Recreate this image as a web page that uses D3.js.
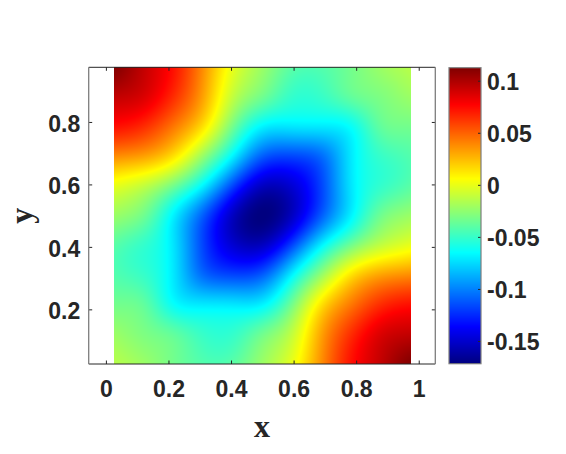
<!DOCTYPE html>
<html><head><meta charset="utf-8">
<script src="https://cdn.jsdelivr.net/npm/d3@7"></script>
<style>html,body{margin:0;padding:0;background:#fff;} svg{display:block}</style>
</head><body>
<svg id="chart" width="566" height="454"></svg>
<script>
// ---- data ----
const xNodes = [0.025, 0.12, 0.215, 0.31, 0.405, 0.5, 0.595, 0.69, 0.785, 0.88, 0.975];
const yNodes = [0.025, 0.12, 0.215, 0.31, 0.405, 0.5, 0.595, 0.69, 0.785, 0.88, 0.975];
// rows: yNodes[0] (bottom) ... yNodes[10] (top); columns follow xNodes
const zRow0  = [-0.014, -0.022, -0.033, -0.042, -0.040, -0.022,  0.000,  0.038,  0.073,  0.094,  0.112];
const zRow1  = [-0.022, -0.030, -0.038, -0.050, -0.051, -0.034, -0.011,  0.032,  0.065,  0.087,  0.094];
const zRow2  = [-0.033, -0.038, -0.063, -0.071, -0.072, -0.068, -0.033,  0.014,  0.044,  0.065,  0.073];
const zRow3  = [-0.042, -0.050, -0.071, -0.106, -0.117, -0.110, -0.068, -0.023,  0.014,  0.032,  0.038];
const zRow4  = [-0.040, -0.051, -0.072, -0.117, -0.148, -0.153, -0.117, -0.068, -0.033, -0.011,  0.000];
const zRow5  = [-0.022, -0.034, -0.068, -0.110, -0.153, -0.172, -0.153, -0.110, -0.068, -0.034, -0.022];
const zRow6  = [ 0.000, -0.011, -0.033, -0.068, -0.117, -0.153, -0.148, -0.117, -0.072, -0.051, -0.040];
const zRow7  = [ 0.038,  0.032,  0.014, -0.023, -0.068, -0.110, -0.117, -0.106, -0.071, -0.050, -0.042];
const zRow8  = [ 0.073,  0.065,  0.044,  0.014, -0.033, -0.068, -0.072, -0.071, -0.063, -0.038, -0.033];
const zRow9  = [ 0.094,  0.087,  0.065,  0.032, -0.011, -0.034, -0.051, -0.050, -0.038, -0.030, -0.022];
const zRow10 = [ 0.112,  0.094,  0.073,  0.038,  0.000, -0.022, -0.040, -0.042, -0.033, -0.022, -0.014];
const zRows = [zRow0, zRow1, zRow2, zRow3, zRow4, zRow5, zRow6, zRow7, zRow8, zRow9, zRow10];

const xTicks = [0, 0.2, 0.4, 0.6, 0.8, 1];
const xTickLabels = ["0", "0.2", "0.4", "0.6", "0.8", "1"];
const yTicks = [0.2, 0.4, 0.6, 0.8];
const yTickLabels = ["0.2", "0.4", "0.6", "0.8"];
const cTicks = [-0.15, -0.1, -0.05, 0, 0.05, 0.1];
const cTickLabels = ["-0.15", "-0.1", "-0.05", "0", "0.05", "0.1"];
const cLimits = [-0.1718, 0.1125];
const xLimits = [-0.055, 1.053];
const yLimits = [0.025, 0.975];
const xLabel = "x", yLabel = "y";

// ---- layout ----
const plot = {left: 88.7, right: 435.3, top: 67.3, bottom: 364};
const cbar = {left: 449, right: 481, top: 67.7, bottom: 363.7};
const tickFont = "bold 23px 'Liberation Sans', Arial, Helvetica, sans-serif";
const textColor = "#262626";

const svg = d3.select("#chart");
const x = d3.scaleLinear().domain(xLimits).range([plot.left, plot.right]);
const y = d3.scaleLinear().domain(yLimits).range([plot.bottom, plot.top]);
const c = d3.scaleLinear().domain(cLimits).range([cbar.bottom, cbar.top]);
const tScale = d3.scaleLinear().domain(cLimits).range([0, 1]).clamp(true);

function jet(v) {
  const t = tScale(v);
  const f = a => Math.max(0, Math.min(1, a));
  return [f(1.5 - Math.abs(4 * t - 3)), f(1.5 - Math.abs(4 * t - 2)), f(1.5 - Math.abs(4 * t - 1))];
}

// ---- smooth rendering of the grid (multiquadric surface through the grid values) ----
const pts = [];
yNodes.forEach((yv, j) => xNodes.forEach((xv, i) => pts.push([xv, yv, zRows[j][i]])));
const N = pts.length;
const eps = xNodes[1] - xNodes[0];
const phi = (dx, dy) => Math.sqrt(dx * dx + dy * dy + eps * eps);
const A = pts.map(p => pts.map(q => phi(p[0] - q[0], p[1] - q[1])));
const b = pts.map(p => p[2]);
for (let k = 0; k < N; k++) {
  let piv = k;
  for (let r = k + 1; r < N; r++) if (Math.abs(A[r][k]) > Math.abs(A[piv][k])) piv = r;
  [A[k], A[piv]] = [A[piv], A[k]]; [b[k], b[piv]] = [b[piv], b[k]];
  for (let r = k + 1; r < N; r++) {
    const m = A[r][k] / A[k][k];
    if (m === 0) continue;
    for (let cc = k; cc < N; cc++) A[r][cc] -= m * A[k][cc];
    b[r] -= m * b[k];
  }
}
const w = new Array(N).fill(0);
for (let k = N - 1; k >= 0; k--) {
  let s = b[k];
  for (let cc = k + 1; cc < N; cc++) s -= A[k][cc] * w[cc];
  w[k] = s / A[k][k];
}
function sample(u, v) {
  let s = 0;
  for (let k = 0; k < N; k++) s += w[k] * phi(u - pts[k][0], v - pts[k][1]);
  return s;
}

const ix0 = Math.round(x(xNodes[0])), ix1 = Math.round(x(xNodes[xNodes.length - 1]));
const iy0 = Math.round(y(yNodes[yNodes.length - 1])), iy1 = Math.round(y(yNodes[0]));
const cw = ix1 - ix0, ch = iy1 - iy0;
const canvas = document.createElement("canvas");
canvas.width = cw; canvas.height = ch;
const ctx = canvas.getContext("2d");
const img = ctx.createImageData(cw, ch);
for (let r = 0; r < ch; r++) {
  const v = Math.max(yNodes[0], Math.min(yNodes[yNodes.length - 1], y.invert(iy0 + r + 0.5)));
  for (let k = 0; k < cw; k++) {
    const u = Math.max(xNodes[0], Math.min(xNodes[xNodes.length - 1], x.invert(ix0 + k + 0.5)));
    const col = jet(sample(u, v));
    const o = (r * cw + k) * 4;
    img.data[o] = Math.round(col[0] * 255);
    img.data[o + 1] = Math.round(col[1] * 255);
    img.data[o + 2] = Math.round(col[2] * 255);
    img.data[o + 3] = 255;
  }
}
ctx.putImageData(img, 0, 0);
svg.append("image").attr("x", ix0).attr("y", iy0).attr("width", cw).attr("height", ch)
  .attr("preserveAspectRatio", "none").attr("href", canvas.toDataURL());

// colorbar image
const cbx0 = Math.round(cbar.left), cbx1 = Math.round(cbar.right);
const cby0 = Math.round(cbar.top), cby1 = Math.round(cbar.bottom);
const cb = document.createElement("canvas");
cb.width = cbx1 - cbx0; cb.height = cby1 - cby0;
const cbctx = cb.getContext("2d");
for (let r = 0; r < cb.height; r++) {
  const col = jet(c.invert(cby0 + r + 0.5));
  cbctx.fillStyle = `rgb(${Math.round(col[0]*255)},${Math.round(col[1]*255)},${Math.round(col[2]*255)})`;
  cbctx.fillRect(0, r, cb.width, 1);
}
svg.append("image").attr("x", cbx0).attr("y", cby0).attr("width", cb.width).attr("height", cb.height)
  .attr("preserveAspectRatio", "none").attr("href", cb.toDataURL());

// ---- axes ----
function styleAxis(g) {
  g.select(".domain").remove();
  g.selectAll(".tick line").attr("stroke", textColor).attr("stroke-width", 1);
  g.selectAll("text").attr("fill", textColor).style("font", tickFont);
}
const tick = 3.5;
const gx = svg.append("g").attr("transform", `translate(0,${plot.bottom})`)
  .call(d3.axisBottom(x).tickValues(xTicks).tickFormat((d, i) => xTickLabels[i]).tickSizeInner(-tick).tickSizeOuter(0));
styleAxis(gx);
gx.selectAll("text").attr("y", 33).attr("dy", null);

const gxt = svg.append("g").attr("transform", `translate(0,${plot.top})`)
  .call(d3.axisTop(x).tickValues(xTicks).tickFormat("").tickSizeInner(-tick).tickSizeOuter(0));
styleAxis(gxt);

const gy = svg.append("g").attr("transform", `translate(${plot.left},0)`)
  .call(d3.axisLeft(y).tickValues(yTicks).tickFormat((d, i) => yTickLabels[i]).tickSizeInner(-tick).tickSizeOuter(0));
styleAxis(gy);
gy.selectAll("text").attr("x", -8.5).attr("dy", null).attr("y", 9.5).attr("text-anchor", "end");

const gyr = svg.append("g").attr("transform", `translate(${plot.right},0)`)
  .call(d3.axisRight(y).tickValues(yTicks).tickFormat("").tickSizeInner(-tick).tickSizeOuter(0));
styleAxis(gyr);

// box
const box = svg.append("g");
box.append("line").attr("x1", plot.left).attr("x2", plot.right).attr("y1", plot.top).attr("y2", plot.top).attr("stroke", textColor);
box.append("line").attr("x1", plot.left).attr("x2", plot.right).attr("y1", plot.bottom).attr("y2", plot.bottom).attr("stroke", textColor);
box.append("line").attr("x1", plot.left).attr("x2", plot.left).attr("y1", plot.top).attr("y2", plot.bottom).attr("stroke", "#7d7d7d").attr("stroke-width", 1.3);
box.append("line").attr("x1", plot.right).attr("x2", plot.right).attr("y1", plot.top).attr("y2", plot.bottom).attr("stroke", "#7d7d7d").attr("stroke-width", 1.3);

// colorbar axis
const gc = svg.append("g").attr("transform", `translate(${cbar.right},0)`)
  .call(d3.axisRight(c).tickValues(cTicks).tickFormat((d, i) => cTickLabels[i]).tickSizeInner(-3).tickSizeOuter(0));
styleAxis(gc);
gc.selectAll("text").attr("x", 6).attr("dy", null).attr("y", 8.6).attr("text-anchor", "start");
svg.append("rect").attr("x", cbar.left).attr("y", cbar.top).attr("width", cbar.right - cbar.left)
  .attr("height", cbar.bottom - cbar.top).attr("fill", "none").attr("stroke", "#7d7d7d").attr("stroke-width", 1.2);

// axis labels
svg.append("text").attr("x", (plot.left + plot.right) / 2).attr("y", 437).attr("text-anchor", "middle")
  .attr("fill", textColor).style("font", "bold 32px 'Liberation Serif', 'Times New Roman', serif").text(xLabel);
svg.append("text").attr("transform", `translate(32,${(plot.top + plot.bottom) / 2}) rotate(-90)`).attr("text-anchor", "middle")
  .attr("fill", textColor).style("font", "bold 32px 'Liberation Serif', 'Times New Roman', serif").text(yLabel);
</script>
</body></html>
